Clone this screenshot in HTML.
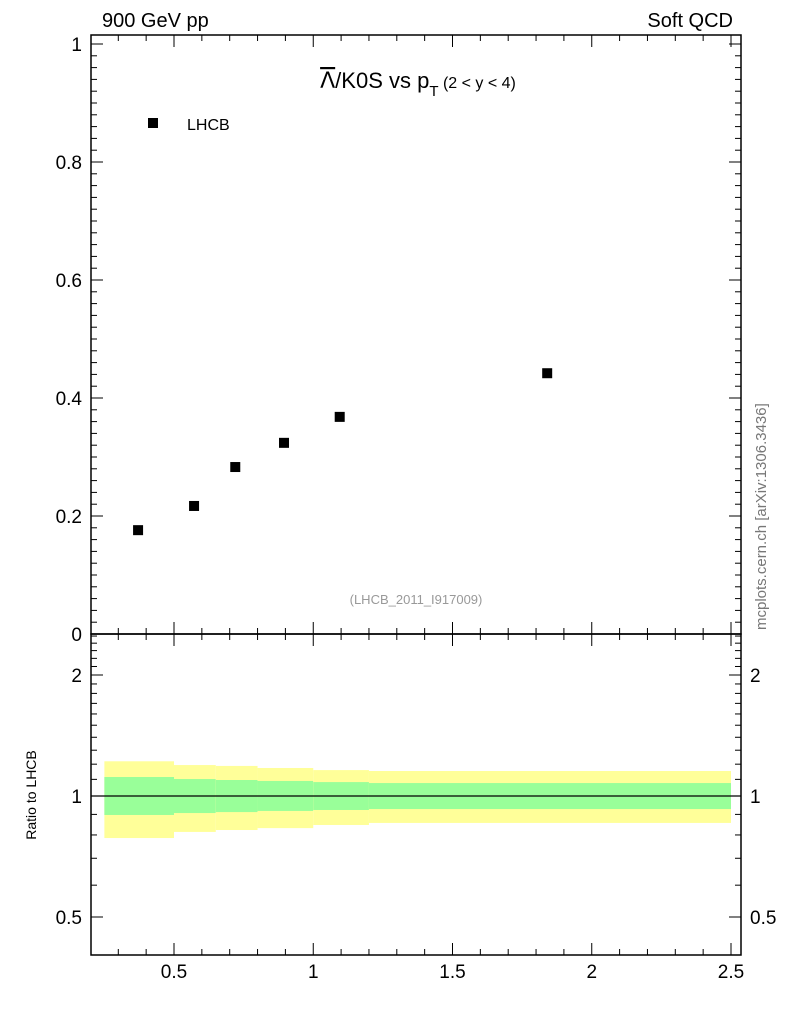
<!DOCTYPE html>
<html><head><meta charset="utf-8"><style>
body{margin:0;background:#fff;}
svg text{font-family:"Liberation Sans",sans-serif;}
</style></head><body>
<svg id="c" width="786" height="1024" viewBox="0 0 786 1024" xmlns="http://www.w3.org/2000/svg">
<text x="102" y="27" font-size="20">900 GeV pp</text>
<text x="733" y="27" font-size="20" text-anchor="end">Soft QCD</text>
<text x="418" y="88" font-size="22" text-anchor="middle"><tspan font-family="DejaVu Sans" text-decoration="overline">Λ</tspan>/K0S vs p<tspan font-size="15" dy="8">T</tspan><tspan font-size="16" dy="-8"> (2 &lt; y &lt; 4)</tspan></text>
<rect x="148" y="118" width="10" height="10" fill="#000"/>
<text x="187" y="130" font-size="16">LHCB</text>
<text x="416" y="604" font-size="13" fill="#999" text-anchor="middle">(LHCB_2011_I917009)</text>
<text x="0" y="0" font-size="15" fill="#777" transform="translate(766,630) rotate(-90)">mcplots.cern.ch [arXiv:1306.3436]</text>
<text x="0" y="0" font-size="14" text-anchor="middle" transform="translate(36,795) rotate(-90)">Ratio to LHCB</text>
<g id="g"></g>
</svg>
<script>
const xVals=[0.371,0.572,0.72,0.895,1.095,1.84];
const yVals=[0.176,0.217,0.283,0.324,0.368,0.442];
const binEdges=[0.25,0.5,0.65,0.8,1.0,1.2,2.5];
const yelHi=[1.22,1.194,1.188,1.174,1.16,1.154];
const yelLo=[0.786,0.814,0.823,0.832,0.847,0.857];
const grnHi=[1.115,1.102,1.096,1.09,1.083,1.077];
const grnLo=[0.897,0.907,0.912,0.918,0.923,0.928];
const mainTicks=[0,0.2,0.4,0.6,0.8,1];
const mainTickLabels=["0","0.2","0.4","0.6","0.8","1"];
const xTicks=[0.5,1,1.5,2,2.5];
const xTickLabels=["0.5","1","1.5","2","2.5"];
const ratioTicks=[0.5,1,2];
const ratioTickLabels=["0.5","1","2"];

const L=91,R=741,T=35,M=634,B=955;
const X=v=>174+(v-0.5)*278.5;
const Y=v=>M-v*590;
const RY=v=>796-Math.log2(v)*121;
const g=document.getElementById('g');
const NS="http://www.w3.org/2000/svg";
function mk(t,a){const e=document.createElementNS(NS,t);for(const k in a)e.setAttribute(k,a[k]);g.appendChild(e);return e;}
function ln(x1,y1,x2,y2,w){return mk('line',{x1,y1,x2,y2,stroke:'#000','stroke-width':w||1});}

for(let i=0;i<binEdges.length-1;i++){
  const x0=X(binEdges[i]),x1=X(binEdges[i+1]);
  let e=mk('rect',{x:x0,y:RY(yelHi[i]),width:x1-x0,height:RY(yelLo[i])-RY(yelHi[i]),fill:'#ffff99'});
  
  
  e=mk('rect',{x:x0,y:RY(grnHi[i]),width:x1-x0,height:RY(grnLo[i])-RY(grnHi[i]),fill:'#99ff99'});
  
  
}
let rl=ln(L,RY(1),R,RY(1),1.2);



mk('rect',{x:L,y:T,width:R-L,height:M-T,fill:'none',stroke:'#000','stroke-width':1.5});
mk('rect',{x:L,y:M,width:R-L,height:B-M,fill:'none',stroke:'#000','stroke-width':1.5});

for(let v=0.3;v<=2.5001;v+=0.1){
  const vv=Math.round(v*10)/10;const major=Math.abs(vv*2-Math.round(vv*2))<1e-6;
  const x=X(vv),h=major?12:6;
  [[T,1],[M,-1],[M,1],[B,-1]].forEach(([y,d])=>ln(x,y,x,y+d*h));
}
xTicks.forEach((v,i)=>{const t=mk('text',{x:X(v),y:978,'font-size':19,'text-anchor':'middle'});t.textContent=xTickLabels[i];
  
  });

for(let k=0;k<=50;k++){const v=k*0.02;const major=k%10==0;const y=Y(v);if(y<T)continue;
  const h=major?12:6;ln(L,y,L+h,y);ln(R,y,R-h,y);}
mainTicks.forEach((v,i)=>{const t=mk('text',{x:82,y:Y(v)+7,'font-size':19,'text-anchor':'end'});t.textContent=mainTickLabels[i];
  
  });

const rmin=[0.5,0.6,0.7,0.8,0.9,1,1.1,1.2,1.3,1.4,1.5,1.6,1.7,1.8,1.9,2,2.1,2.2,2.3,2.4,2.5];
rmin.forEach(v=>{const y=RY(v);if(y<M)return;const major=ratioTicks.includes(v);const h=major?12:6;ln(L,y,L+h,y);ln(R,y,R-h,y);});
ratioTicks.forEach((v,i)=>{
  let t=mk('text',{x:82,y:RY(v)+7,'font-size':19,'text-anchor':'end'});t.textContent=ratioTickLabels[i];
  
  
  t=mk('text',{x:750,y:RY(v)+7,'font-size':19});t.textContent=ratioTickLabels[i];
  
  
});

xVals.forEach((v,i)=>{const p=mk('rect',{x:X(v)-5,y:Y(yVals[i])-5,width:10,height:10,fill:'#000'});
  
  });
</script>
</body></html>
